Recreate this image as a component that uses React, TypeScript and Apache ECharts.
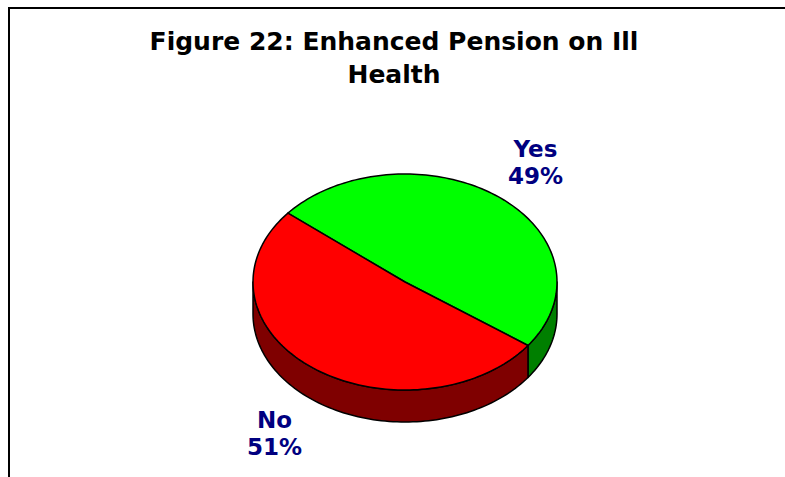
import React, { useEffect, useRef } from "react";
import * as echarts from "echarts";

const categories = ["Yes", "No"];
const values = [49, 51];
const topColors = ["#00FF00", "#FF0000"];
const sideColors = ["#007F00", "#7F0000"];
const titleText = "Figure 22: Enhanced Pension on Ill\nHealth";

const START_ANGLE = 324; // math degrees, counter-clockwise
const CX = 405;
const CY = 282;
const RX = 152;
const RY = 108;
const DEPTH = 32;
const FONT = "'DejaVu Sans', Verdana, sans-serif";

function pt(deg: number, dy = 0): number[] {
  const r = (deg * Math.PI) / 180;
  return [CX + RX * Math.cos(r), CY - RY * Math.sin(r) + dy];
}

function arc(a: number, b: number, dy = 0): number[][] {
  const n = Math.max(2, Math.ceil(Math.abs(b - a) / 1.5));
  const out: number[][] = [];
  for (let i = 0; i <= n; i++) out.push(pt(a + ((b - a) * i) / n, dy));
  return out;
}

export default function App() {
  const ref = useRef<HTMLDivElement>(null);
  useEffect(() => {
    if (!ref.current) return;
    const chart = echarts.init(ref.current, null, { renderer: "svg" });
    const total = values.reduce((s, v) => s + v, 0);
    const starts: number[] = [];
    let acc = START_ANGLE;
    values.forEach((v) => {
      starts.push(acc);
      acc += (v / total) * 360;
    });

    const renderItem = (params: any, api: any) => {
      const i = params.dataIndex;
      const v = api.value(0);
      const a = starts[i];
      const b = a + (v / total) * 360;
      const children: any[] = [];
      for (let k = 0; k < 2; k++) {
        const s = Math.max(a, 180 + k * 360);
        const e = Math.min(b, 360 + k * 360);
        if (e > s) {
          const pts = arc(s, e, 0).concat(arc(e, s, DEPTH));
          children.push({
            type: "polygon",
            shape: { points: pts },
            style: { fill: sideColors[i], stroke: "#000", lineWidth: 1.5, lineJoin: "round" },
          });
        }
      }
      const topPts = [[CX, CY]].concat(arc(a, b, 0));
      children.push({
        type: "polygon",
        shape: { points: topPts },
        style: { fill: topColors[i], stroke: "#000", lineWidth: 1.5, lineJoin: "round" },
      });
      const mid = (a + b) / 2;
      const r = (mid * Math.PI) / 180;
      const f = 1.4;
      const lx = CX + RX * f * Math.cos(r);
      const ly = CY - RY * f * Math.sin(r) + (Math.sin(r) < 0 ? DEPTH : 0);
      const pct = Math.round((v / total) * 100) + "%";
      children.push({
        type: "text",
        x: lx,
        y: ly,
        style: {
          text: categories[i] + "\n" + pct,
          fill: "#000080",
          font: "bold 23px " + FONT,
          lineHeight: 27,
          align: "center",
          verticalAlign: "middle",
        },
      });
      return { type: "group", children };
    };

    chart.setOption({
      animation: false,
      backgroundColor: "#fff",
      title: {
        text: titleText,
        left: 389,
        top: 20,
        textAlign: "center",
        textStyle: {
          fontFamily: FONT,
          fontWeight: "bold",
          fontSize: 25,
          lineHeight: 33,
          color: "#000",
        },
      },
      graphic: [
        {
          type: "rect",
          shape: { x: 9, y: 8, width: 800, height: 500 },
          style: { fill: "none", stroke: "#000", lineWidth: 2 },
          silent: true,
        },
      ],
      series: [
        {
          type: "custom",
          coordinateSystem: "none",
          renderItem,
          data: values,
        },
      ],
    });
    return () => chart.dispose();
  }, []);
  return (
    <div
      ref={ref}
      style={{ position: "fixed", left: 0, top: 0, width: 785, height: 477 }}
    />
  );
}
